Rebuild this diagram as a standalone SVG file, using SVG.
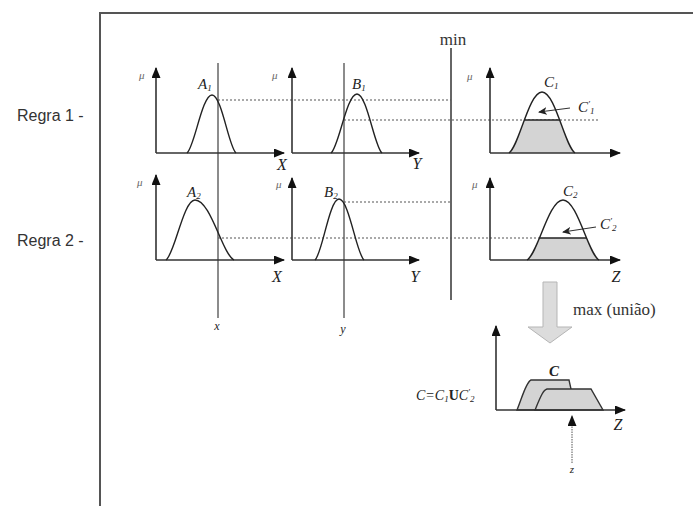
<svg xmlns="http://www.w3.org/2000/svg" width="693" height="506" viewBox="0 0 693 506">
<style>
.frame{fill:none;stroke:#555;stroke-width:2}
.axis{fill:none;stroke:#333;stroke-width:1.6}
.curve{fill:none;stroke:#222;stroke-width:1.4}
.fill{fill:#d4d4d4;stroke:none}
.vline{stroke:#666;stroke-width:1.5}
.minl{stroke:#666;stroke-width:2}
.dash{stroke:#555;stroke-width:1.2;stroke-dasharray:2 2}
.solid{stroke:#222;stroke-width:1.4}
.m{font-family:"Liberation Serif",serif;font-style:italic;fill:#222}
.mu{font-size:11px;fill:#666}
.ax{font-size:16px}
.nm{font-size:15px}
.sub{font-size:9px}
.r{font-family:"Liberation Sans",Arial,sans-serif;font-size:16px;fill:#333}
.t{font-family:"Liberation Serif",serif;font-size:17px;fill:#333}
.ptr{stroke:#333;stroke-width:1.2}
</style>
<defs>
<marker id="ah" markerUnits="userSpaceOnUse" markerWidth="11" markerHeight="9" refX="10" refY="4.5" orient="auto" viewBox="0 0 11 9">
<path d="M0,0 L11,4.5 L0,9 Z" fill="#111"/>
</marker>
<marker id="sh" markerUnits="userSpaceOnUse" markerWidth="9" markerHeight="8" refX="8" refY="4" orient="auto" viewBox="0 0 9 8">
<path d="M0,0 L9,4 L0,8 L2.5,4 Z" fill="#222"/>
</marker>
<clipPath id="cl1"><rect x="490" y="120" width="130" height="33"/></clipPath>
<clipPath id="cl2"><rect x="490" y="238" width="130" height="22"/></clipPath>
<clipPath id="b1"><path d="M509,153 C518.9,146.9 528.8,92 542,92 C555.2,92 565.1,146.9 575,153 Z"/></clipPath>
<clipPath id="b2"><path d="M527,260 C537.8,254 548.6,200 563,200 C577.4,200 588.2,254 599,260 Z"/></clipPath>
</defs>

<path class="frame" d="M100,506 V13 H693"/>

<g id="labels">
<text class="r" x="17" y="121">Regra 1 -</text>
<text class="r" x="17" y="246">Regra 2 -</text>
</g>

<g id="connectors">
<line class="vline" x1="218" y1="63" x2="218" y2="318"/>
<line class="vline" x1="344" y1="63" x2="344" y2="318"/>
<line class="minl" x1="451" y1="48" x2="451" y2="300"/>
<line class="dash" x1="218" y1="100" x2="451" y2="100"/>
<line class="dash" x1="344" y1="120" x2="598" y2="120"/>
<line class="dash" x1="344" y1="202" x2="451" y2="202"/>
<line class="dash" x1="218" y1="238" x2="541" y2="238"/>
<line class="ptr" x1="570" y1="108" x2="539" y2="112" marker-end="url(#sh)"/>
<line class="ptr" x1="596" y1="227" x2="563" y2="232" marker-end="url(#sh)"/>
</g>

<g id="minlabel">
<text class="t" x="453" y="45" text-anchor="middle">min</text>
</g>

<g id="A1">
<line class="axis" x1="156" y1="153" x2="156" y2="68" marker-end="url(#ah)"/>
<line class="axis" x1="156" y1="153" x2="284" y2="153" marker-end="url(#ah)"/>
<path class="curve" d="M187,153 C194.5,147.2 202,95 212,95 C221.6,95 228.8,147.2 236,153"/>
<text class="m mu" x="139" y="79">μ</text>
<text class="m nm" x="198" y="89">A<tspan class="sub" dy="2">1</tspan></text>
<text class="m ax" x="282" y="170" text-anchor="middle">X</text>
</g>

<g id="B1">
<line class="axis" x1="292" y1="153" x2="292" y2="68" marker-end="url(#ah)"/>
<line class="axis" x1="292" y1="153" x2="419" y2="153" marker-end="url(#ah)"/>
<path class="curve" d="M331,153 C338.8,147.1 346.6,94 357,94 C367,94 374.5,147.1 382,153"/>
<text class="m mu" x="272" y="79">μ</text>
<text class="m nm" x="352" y="89">B<tspan class="sub" dy="2">1</tspan></text>
<text class="m ax" x="417" y="169" text-anchor="middle">Y</text>
</g>

<g id="C1">
<path class="fill" clip-path="url(#cl1)" d="M509,153 C518.9,146.9 528.8,92 542,92 C555.2,92 565.1,146.9 575,153 Z"/>
<line class="solid" clip-path="url(#b1)" x1="500" y1="120" x2="585" y2="120"/>
<line class="axis" x1="490" y1="153" x2="490" y2="68" marker-end="url(#ah)"/>
<line class="axis" x1="490" y1="153" x2="620" y2="153" marker-end="url(#ah)"/>
<path class="curve" d="M509,153 C518.9,146.9 528.8,92 542,92 C555.2,92 565.1,146.9 575,153"/>
<text class="m mu" x="467" y="80">μ</text>
<text class="m nm" x="544" y="87">C<tspan class="sub" dy="2">1</tspan></text>
<text class="m nm" x="578" y="112">C<tspan class="sub" dy="-5">′</tspan><tspan class="sub" dy="7">1</tspan></text>
</g>

<g id="A2">
<line class="axis" x1="156" y1="260" x2="156" y2="175" marker-end="url(#ah)"/>
<line class="axis" x1="156" y1="260" x2="284" y2="260" marker-end="url(#ah)"/>
<path class="curve" d="M166,260 C174.7,254 183.4,200 195,200 C210.6,200 222.3,254 234,260"/>
<text class="m mu" x="137" y="186">μ</text>
<text class="m nm" x="187" y="197">A<tspan class="sub" dy="2">2</tspan></text>
<text class="m ax" x="277" y="282" text-anchor="middle">X</text>
</g>

<g id="B2">
<line class="axis" x1="292" y1="260" x2="292" y2="178" marker-end="url(#ah)"/>
<line class="axis" x1="292" y1="260" x2="419" y2="260" marker-end="url(#ah)"/>
<path class="curve" d="M315,260 C322.2,253.9 329.4,199 339,199 C349,199 356.5,253.9 364,260"/>
<text class="m mu" x="276" y="188">μ</text>
<text class="m nm" x="324" y="197">B<tspan class="sub" dy="2">2</tspan></text>
<text class="m ax" x="415" y="282" text-anchor="middle">Y</text>
</g>

<g id="C2">
<path class="fill" clip-path="url(#cl2)" d="M527,260 C537.8,254 548.6,200 563,200 C577.4,200 588.2,254 599,260 Z"/>
<line class="solid" clip-path="url(#b2)" x1="520" y1="238" x2="605" y2="238"/>
<line class="axis" x1="490" y1="260" x2="490" y2="178" marker-end="url(#ah)"/>
<line class="axis" x1="490" y1="260" x2="620" y2="260" marker-end="url(#ah)"/>
<path class="curve" d="M527,260 C537.8,254 548.6,200 563,200 C577.4,200 588.2,254 599,260"/>
<text class="m mu" x="472" y="188">μ</text>
<text class="m nm" x="563" y="196">C<tspan class="sub" dy="2">2</tspan></text>
<text class="m nm" x="600" y="229">C<tspan class="sub" dy="-5">′</tspan><tspan class="sub" dy="7">2</tspan></text>
<text class="m ax" x="616" y="282" text-anchor="middle">Z</text>
</g>

<g id="inputs">
<text class="m" font-size="12" x="217" y="330" text-anchor="middle" fill="#555">x</text>
<text class="m" font-size="12" x="343" y="333" text-anchor="middle" fill="#555">y</text>
</g>

<g id="maxarrow">
<path d="M543,282 H557 V327 H572 L550,343 L528,327 H543 Z" fill="#dcdcdc" stroke="#b5b5b5" stroke-width="1"/>
<text class="t" x="573" y="315">max (união)</text>
</g>

<g id="C">
<path d="M517,410 C522,398 526,382 531,380 L569,380 L571,389 L571,410 Z" fill="#d4d4d4" stroke="#333" stroke-width="1.4"/>
<path d="M535,410 C540,398 543,390 547,389 L591,389 L603,410 Z" fill="#d4d4d4" stroke="#333" stroke-width="1.4"/>
<line class="axis" x1="496" y1="410" x2="496" y2="326" marker-end="url(#ah)"/>
<line class="axis" x1="496" y1="410" x2="625" y2="410" marker-end="url(#ah)"/>
<text class="m nm" x="549" y="376" font-weight="bold">C</text>
<text class="m" font-size="14" x="416" y="400">C=C<tspan class="sub" dy="2">1</tspan><tspan dy="-2" font-style="normal" font-weight="bold">U</tspan>C<tspan class="sub" dy="-5">′</tspan><tspan class="sub" dy="7">2</tspan></text>
<text class="m ax" x="618" y="430" text-anchor="middle">Z</text>
<line x1="572" y1="463" x2="572" y2="416" stroke="#555" stroke-width="1" stroke-dasharray="1.5 1" marker-end="url(#ah)"/>
<text class="m" font-size="11" x="572" y="473" text-anchor="middle" fill="#555">z</text>
</g>
</svg>
